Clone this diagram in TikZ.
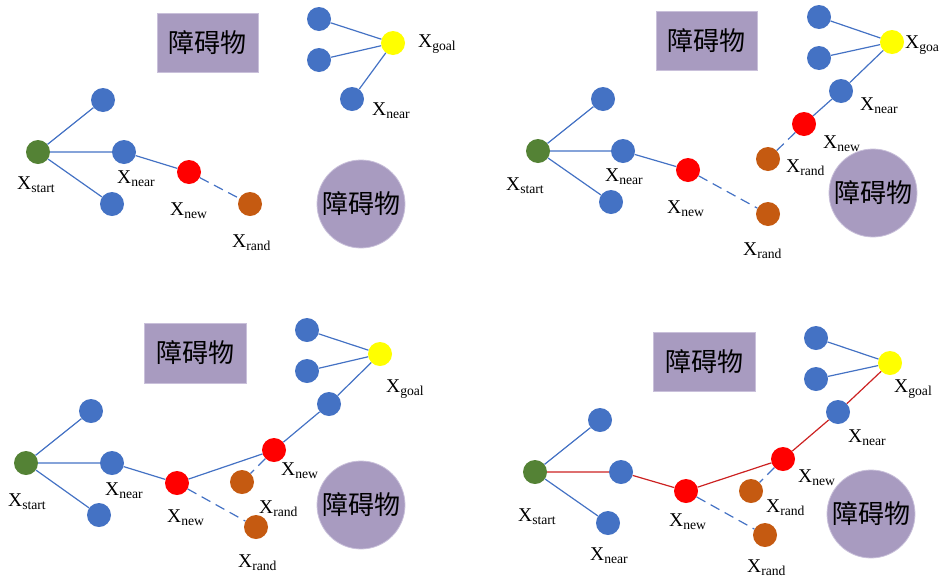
\documentclass[tikz,border=0pt]{standalone}
\usepackage{fontspec}
\setmainfont{Liberation Serif}
\newfontfamily\cjk{Noto Sans CJK SC}
\definecolor{treeblue}{HTML}{4472C4}
\definecolor{startgreen}{HTML}{548235}
\definecolor{randorange}{HTML}{C55A11}
\definecolor{goalyellow}{HTML}{FFFF00}
\definecolor{obstfill}{HTML}{A89BC0}
\definecolor{obstedge}{HTML}{C9C0DA}
\definecolor{pathred}{HTML}{CC2222}
\begin{document}
\begin{tikzpicture}[x=1pt,y=-1pt,
    vtx/.style={circle,inner sep=0pt,minimum size=24pt,fill=#1},
    lbl/.style={anchor=base west,inner sep=0pt,font=\fontsize{19.5}{22}\selectfont},
    obst/.style={fill=obstfill,draw=obstedge,line width=.8pt,inner sep=0pt,font=\cjk\fontsize{26}{30}\selectfont},
    tree/.style={treeblue,line width=1.2pt},
    trial/.style={tree,dash pattern=on 10pt off 6pt},
    route/.style={pathred,line width=1.2pt}]
\useasboundingbox (0,0) rectangle (940,579);
\node[obst,minimum width=101pt,minimum height=59pt] (a-box) at (207.5,42.5) {障碍物};
\node[obst,circle,minimum size=88pt] (a-disc) at (361,204) {障碍物};
\node[vtx=startgreen] (a-start) at (38,152) {};
\node[vtx=treeblue] (a-up) at (103,100) {};
\node[vtx=treeblue] (a-near) at (124,152) {};
\node[vtx=treeblue] (a-down) at (112,204) {};
\node[vtx=red] (a-new) at (189,172) {};
\node[vtx=randorange] (a-rand) at (250,204) {};
\node[vtx=goalyellow] (a-goal) at (393,43) {};
\node[vtx=treeblue] (a-g1) at (319,19) {};
\node[vtx=treeblue] (a-g2) at (319,60) {};
\node[vtx=treeblue] (a-g3) at (352,99) {};
\draw[tree] (a-start)--(a-up) (a-start)--(a-near) (a-start)--(a-down) (a-near)--(a-new);
\draw[trial] (a-new)--(a-rand);
\draw[tree] (a-goal)--(a-g1) (a-goal)--(a-g2) (a-goal)--(a-g3);
\node[lbl] (a-lstart) at (17,189) {X\textsubscript{start}};
\node[lbl] (a-lnear) at (117,183) {X\textsubscript{near}};
\node[lbl] (a-lnew) at (170,215) {X\textsubscript{new}};
\node[lbl] (a-lrand) at (232,247) {X\textsubscript{rand}};
\node[lbl] (a-lgoal) at (418,47) {X\textsubscript{goal}};
\node[lbl] (a-lg3) at (372,115) {X\textsubscript{near}};
\node[obst,minimum width=101pt,minimum height=59pt] (b-box) at (706.5,40.5) {障碍物};
\node[obst,circle,minimum size=88pt] (b-disc) at (873,193) {障碍物};
\node[vtx=startgreen] (b-start) at (538,151) {};
\node[vtx=treeblue] (b-up) at (603,99) {};
\node[vtx=treeblue] (b-near) at (623,151) {};
\node[vtx=treeblue] (b-down) at (611,202) {};
\node[vtx=red] (b-new) at (688,170) {};
\node[vtx=randorange] (b-rand) at (768,214) {};
\node[vtx=goalyellow] (b-goal) at (892,42) {};
\node[vtx=treeblue] (b-g1) at (819,17) {};
\node[vtx=treeblue] (b-g2) at (819,58) {};
\node[vtx=treeblue] (b-g3) at (841,91) {};
\node[vtx=red] (b-new2) at (804,124) {};
\node[vtx=randorange] (b-rand2) at (768,159) {};
\draw[tree] (b-start)--(b-up) (b-start)--(b-near) (b-start)--(b-down) (b-near)--(b-new);
\draw[trial] (b-new)--(b-rand);
\draw[tree] (b-goal)--(b-g1) (b-goal)--(b-g2) (b-goal)--(b-g3) (b-g3)--(b-new2);
\draw[trial] (b-new2)--(b-rand2);
\node[lbl] (b-lstart) at (506,190) {X\textsubscript{start}};
\node[lbl] (b-lnear) at (605,181) {X\textsubscript{near}};
\node[lbl] (b-lnew) at (667,213) {X\textsubscript{new}};
\node[lbl] (b-lrand) at (743,255) {X\textsubscript{rand}};
\node[lbl] (b-lgoal) at (905,48) {X\textsubscript{goa}};
\node[lbl] (b-lg3) at (860,110) {X\textsubscript{near}};
\node[lbl] (b-lnew2) at (823,148) {X\textsubscript{new}};
\node[lbl] (b-lrand2) at (786,172) {X\textsubscript{rand}};
\node[obst,minimum width=102pt,minimum height=60pt] (c-box) at (195,353) {障碍物};
\node[obst,circle,minimum size=88pt] (c-disc) at (361,505) {障碍物};
\node[vtx=startgreen] (c-start) at (26,463) {};
\node[vtx=treeblue] (c-up) at (91,411) {};
\node[vtx=treeblue] (c-near) at (112,463) {};
\node[vtx=treeblue] (c-down) at (99,515) {};
\node[vtx=red] (c-new) at (177,483) {};
\node[vtx=randorange] (c-rand) at (256,527) {};
\node[vtx=goalyellow] (c-goal) at (380,354) {};
\node[vtx=treeblue] (c-g1) at (307,330) {};
\node[vtx=treeblue] (c-g2) at (307,371) {};
\node[vtx=treeblue] (c-g3) at (329,404) {};
\node[vtx=red] (c-new2) at (274,450) {};
\node[vtx=randorange] (c-rand2) at (242,482) {};
\draw[tree] (c-start)--(c-up) (c-start)--(c-near) (c-start)--(c-down) (c-near)--(c-new) (c-new)--(c-new2);
\draw[trial] (c-new)--(c-rand);
\draw[tree] (c-goal)--(c-g1) (c-goal)--(c-g2) (c-goal)--(c-g3) (c-g3)--(c-new2);
\draw[trial] (c-new2)--(c-rand2);
\node[lbl] (c-lstart) at (8,506) {X\textsubscript{start}};
\node[lbl] (c-lnear) at (105,495) {X\textsubscript{near}};
\node[lbl] (c-lnew) at (167,522) {X\textsubscript{new}};
\node[lbl] (c-lrand) at (238,567) {X\textsubscript{rand}};
\node[lbl] (c-lgoal) at (386,392) {X\textsubscript{goal}};
\node[lbl] (c-lnew2) at (281,475) {X\textsubscript{new}};
\node[lbl] (c-lrand2) at (259,513) {X\textsubscript{rand}};
\node[obst,minimum width=102pt,minimum height=59pt] (d-box) at (704,361.5) {障碍物};
\node[obst,circle,minimum size=88pt] (d-disc) at (871,514) {障碍物};
\node[vtx=startgreen] (d-start) at (535,472) {};
\node[vtx=treeblue] (d-up) at (600,420) {};
\node[vtx=treeblue] (d-near) at (621,472) {};
\node[vtx=treeblue] (d-down) at (608,523) {};
\node[vtx=red] (d-new) at (686,491) {};
\node[vtx=randorange] (d-rand) at (765,535) {};
\node[vtx=goalyellow] (d-goal) at (890,363) {};
\node[vtx=treeblue] (d-g1) at (816,338) {};
\node[vtx=treeblue] (d-g2) at (816,379) {};
\node[vtx=treeblue] (d-g3) at (838,412) {};
\node[vtx=red] (d-new2) at (783,459) {};
\node[vtx=randorange] (d-rand2) at (751,491) {};
\draw[tree] (d-start)--(d-up) (d-start)--(d-down) (d-goal)--(d-g1) (d-goal)--(d-g2);
\draw[route] (d-start)--(d-near)--(d-new)--(d-new2)--(d-g3)--(d-goal);
\draw[trial] (d-new)--(d-rand);
\draw[trial] (d-new2)--(d-rand2);
\node[lbl] (d-lstart) at (518,521) {X\textsubscript{start}};
\node[lbl] (d-lnear) at (590,560) {X\textsubscript{near}};
\node[lbl] (d-lnew) at (669,526) {X\textsubscript{new}};
\node[lbl] (d-lrand) at (747,572) {X\textsubscript{rand}};
\node[lbl] (d-lgoal) at (894,392) {X\textsubscript{goal}};
\node[lbl] (d-lg3) at (848,442) {X\textsubscript{near}};
\node[lbl] (d-lnew2) at (798,482) {X\textsubscript{new}};
\node[lbl] (d-lrand2) at (766,512) {X\textsubscript{rand}};
\end{tikzpicture}
\end{document}
